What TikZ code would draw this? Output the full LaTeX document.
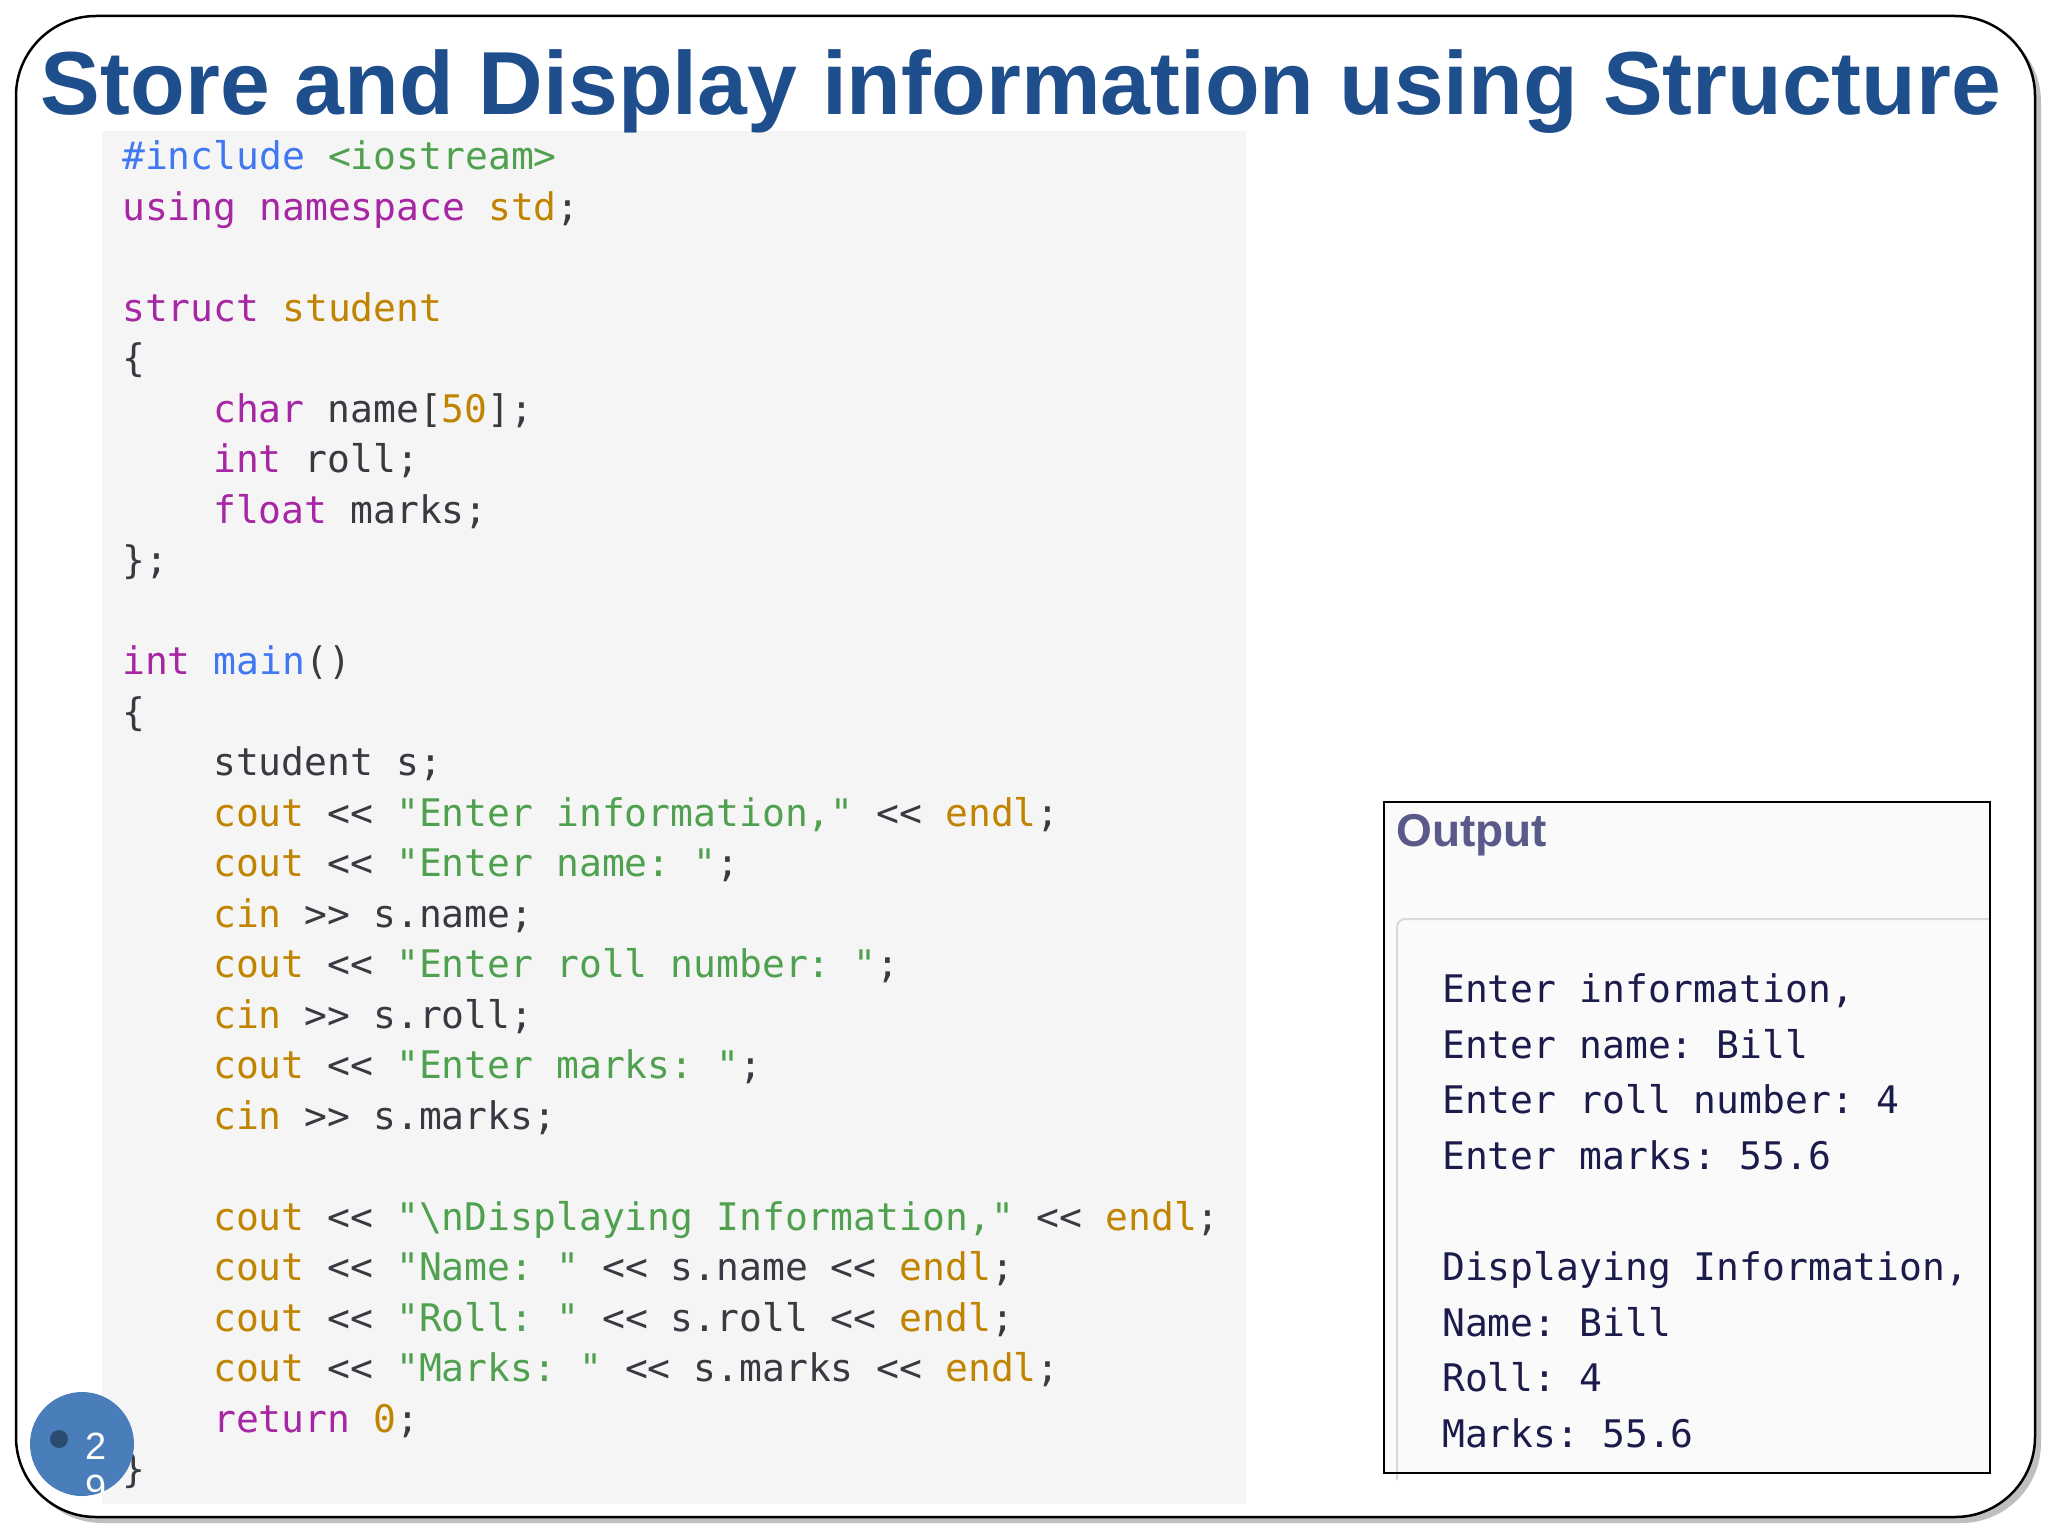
\documentclass[tikz,border=0pt]{standalone}
\usepackage{fontspec}
\setmainfont{Liberation Sans}
\setmonofont{DejaVu Sans Mono}
\usetikzlibrary{calc}
\definecolor{kw}{HTML}{A626A4}
\definecolor{gd}{HTML}{C18401}
\definecolor{st}{HTML}{50A14F}
\definecolor{bl}{HTML}{4078F2}
\definecolor{tx}{HTML}{383A42}
\definecolor{ttl}{HTML}{1F4E8C}
\definecolor{outc}{HTML}{1C1C4C}
\definecolor{outh}{HTML}{5A5A8A}
\definecolor{pg}{HTML}{4A7EBB}
\newcommand{\K}[1]{\textcolor{kw}{#1}}
\newcommand{\G}[1]{\textcolor{gd}{#1}}
\newcommand{\Sg}[1]{\textcolor{st}{#1}}
\newcommand{\B}[1]{\textcolor{bl}{#1}}
\tikzset{codeln/.style={anchor=mid west,inner sep=0pt,font=\fontsize{38}{38}\ttfamily,text=tx},
outln/.style={anchor=mid west,inner sep=0pt,font=\fontsize{38}{38}\ttfamily,text=outc}}
\begin{document}
\begin{tikzpicture}[x=1pt,y=-1pt]
\useasboundingbox (0,0) rectangle (2048,1536);
\fill[black!25,rounded corners=80pt] (22,22) rectangle (2041,1523);
\draw[line width=2.5pt,fill=white,rounded corners=80pt] (16,16) rectangle (2035,1517);
\fill[black!4] (102,131) rectangle (1246,1504);
\node[inner sep=0pt,text=ttl] (title) at (1021,92) {\resizebox{1960pt}{!}{\fontsize{80}{80}\selectfont\bfseries Store and Display information using Structure}};
\def\ya{167}\def\dy{50.5}
\foreach \i/\xx/\t in {
0/122/{\B{\#include} \Sg{<iostream>}},
1/122/{\K{using namespace} \G{std};},
3/122/{\K{struct} \G{student}},
4/122/{\{},
5/213/{\K{char} name[\G{50}];},
6/213/{\K{int} roll;},
7/213/{\K{float} marks;},
8/122/{\};},
10/122/{\K{int} \B{main}()},
11/122/{\{},
12/213/{student s;},
13/213/{\G{cout} << \Sg{"Enter information,"} << \G{endl};},
14/213/{\G{cout} << \Sg{"Enter name: "};},
15/213/{\G{cin} >> s.name;},
16/213/{\G{cout} << \Sg{"Enter roll number: "};},
17/213/{\G{cin} >> s.roll;},
18/213/{\G{cout} << \Sg{"Enter marks: "};},
19/213/{\G{cin} >> s.marks;},
21/213/{\G{cout} << \Sg{"\textbackslash nDisplaying Information,"} << \G{endl};},
22/213/{\G{cout} << \Sg{"Name: "} << s.name << \G{endl};},
23/213/{\G{cout} << \Sg{"Roll: "} << s.roll << \G{endl};},
24/213/{\G{cout} << \Sg{"Marks: "} << s.marks << \G{endl};},
25/213/{\K{return} \G{0};},
26/122/{\}}}
  \node[codeln] (c\i) at (\xx,{\ya+\i*\dy}) {\t};
% output box
\fill[black!2] (1384,802) rectangle (1990,1473);
\draw[black!15,line width=2pt,rounded corners=8pt] (1990,919) -- (1397,919) -- (1397,1480);
\draw[line width=2.5pt] (1384,802) rectangle (1990,1473);
\node[anchor=north west,inner sep=0pt,text=outh,font=\fontsize{46}{46}\selectfont\bfseries] (outt) at (1396,814) {Output};
\def\yb{1000}\def\db{55.6}
\foreach \i/\t in {0/{Enter information,},1/{Enter name: Bill},2/{Enter roll number: 4},3/{Enter marks: 55.6},5/{Displaying Information,},6/{Name: Bill},7/{Roll: 4},8/{Marks: 55.6}}
  \node[outln] (o\i) at (1442,{\yb+\i*\db}) {\t};
% page number
\fill[pg] (82,1444) circle (52);
\fill[pg!60!black] (59,1439) circle (9);
\begin{scope}
\clip (82,1444) circle (52);
\node[text=white,font=\fontsize{38}{38}\selectfont,inner sep=0pt] (p2) at (96,1446) {2};
\node[text=white,font=\fontsize{38}{38}\selectfont,inner sep=0pt] (p9) at (96,1488) {9};
\end{scope}
\end{tikzpicture}
\end{document}
